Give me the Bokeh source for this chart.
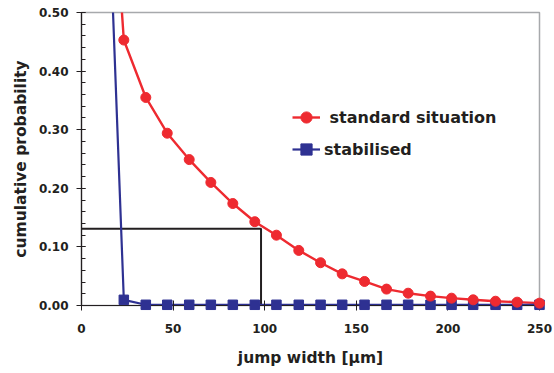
from bokeh.plotting import figure
from bokeh.models import (ColumnDataSource, Range1d, FixedTicker, SingleIntervalTicker,
                          NumeralTickFormatter, Legend, LegendItem)
from bokeh.embed import file_html
from bokeh.resources import INLINE

# Cumulative probability of the jump width, sampled in equal bins
jump_width = [11.2, 23.1, 35.1, 46.8, 58.8, 70.6, 82.6, 94.6, 106.4, 118.6, 130.5,
              142.3, 154.5, 166.5, 178.3, 190.5, 202.0, 213.8, 226.0, 237.8, 250.0]
standard_situation = [1.0, 0.453, 0.355, 0.294, 0.249, 0.210, 0.174, 0.143, 0.120, 0.094,
                      0.073, 0.054, 0.041, 0.028, 0.021, 0.016, 0.0125, 0.0097, 0.0073,
                      0.0057, 0.004]
stabilised = [1.0, 0.0097, 0.0012, 0.0012, 0.0012, 0.0012, 0.0012, 0.0012, 0.0012, 0.0012,
              0.0012, 0.0012, 0.0012, 0.0012, 0.0012, 0.0012, 0.0012, 0.0012, 0.0012,
              0.0012, 0.0012]

x_ticks = [0, 50, 100, 150, 200, 250]
x_limits = (0, 250)
y_limits = (0, 0.5)

# reference jump width and its probability in the standard situation
threshold_width = 98
threshold_prob = 0.131

RED = "#ee2a30"
BLUE = "#2e3192"
INK = "#231f20"
FONT = "DejaVu Sans"

p = figure(width=554, height=373, output_backend="svg", toolbar_location=None,
           x_range=Range1d(*x_limits), y_range=Range1d(*y_limits),
           min_border_left=81, min_border_right=15, min_border_top=12,
           min_border_bottom=68)
p.xgrid.visible = False
p.ygrid.visible = False
p.outline_line_color = "#a7a9ac"
p.outline_line_width = 1.5
p.background_fill_color = "white"
p.border_fill_color = "white"

src = ColumnDataSource(dict(x=jump_width, std=standard_situation, stab=stabilised))
in_view = [i for i, (a, b) in enumerate(zip(standard_situation, stabilised))
           if a <= y_limits[1] and b <= y_limits[1]]
src_marks = ColumnDataSource(dict(x=[jump_width[i] for i in in_view],
                                  std=[standard_situation[i] for i in in_view],
                                  stab=[stabilised[i] for i in in_view]))

# threshold guide lines
p.line([x_limits[0], threshold_width, threshold_width],
       [threshold_prob, threshold_prob, y_limits[0]],
       line_color=INK, line_width=2)

r_std_line = p.line("x", "std", source=src, line_color=RED, line_width=2.4)
r_stab_line = p.line("x", "stab", source=src, line_color=BLUE, line_width=2.2)
r_stab_pts = p.scatter("x", "stab", source=src_marks, marker="square", size=9.5,
                       fill_color=BLUE, line_color=BLUE, level="overlay")
r_std_pts = p.scatter("x", "std", source=src_marks, marker="circle", size=10,
                      fill_color=RED, line_color=RED, level="overlay")

legend = Legend(items=[
    LegendItem(label=" standard situation", renderers=[r_std_line, r_std_pts]),
    LegendItem(label="stabilised", renderers=[r_stab_line, r_stab_pts]),
], location=(211, 142))
legend.glyph_width = 28
legend.glyph_height = 28
legend.spacing = 4
legend.label_standoff = 4
legend.padding = 0
legend.margin = 0
legend.border_line_color = None
legend.background_fill_alpha = 0
legend.label_text_font = FONT
legend.label_text_font_style = "bold"
legend.label_text_font_size = "16px"
legend.label_text_color = INK
p.add_layout(legend)

# axes
for ax in (p.xaxis[0], p.yaxis[0]):
    ax.axis_line_color = INK
    ax.axis_line_width = 1.2
    ax.major_tick_line_color = INK
    ax.minor_tick_line_color = INK
    ax.major_label_text_font = FONT
    ax.major_label_text_font_style = "bold"
    ax.major_label_text_font_size = "12px"
    ax.major_label_text_color = INK
    ax.axis_label_text_font = FONT
    ax.axis_label_text_font_style = "bold"
    ax.axis_label_text_font_size = "15.5px"
    ax.axis_label_text_color = INK

p.xaxis.ticker = FixedTicker(ticks=x_ticks)
p.xaxis.major_tick_in = 5
p.xaxis.major_tick_out = 5
p.xaxis.minor_tick_line_color = None
p.xaxis.major_label_standoff = 13
p.xaxis.axis_label = "jump width [µm]"
p.xaxis.axis_label_standoff = 13

p.yaxis.ticker = SingleIntervalTicker(interval=0.1, num_minor_ticks=5)
p.yaxis.formatter = NumeralTickFormatter(format="0.00")
p.yaxis.major_tick_in = 4
p.yaxis.major_tick_out = 5
p.yaxis.minor_tick_in = 4
p.yaxis.minor_tick_out = 0
p.yaxis.major_label_standoff = 8
p.yaxis.axis_label = "cumulative probability"
p.yaxis.axis_label_standoff = 6

open("out.html", "w").write(file_html(p, INLINE))
